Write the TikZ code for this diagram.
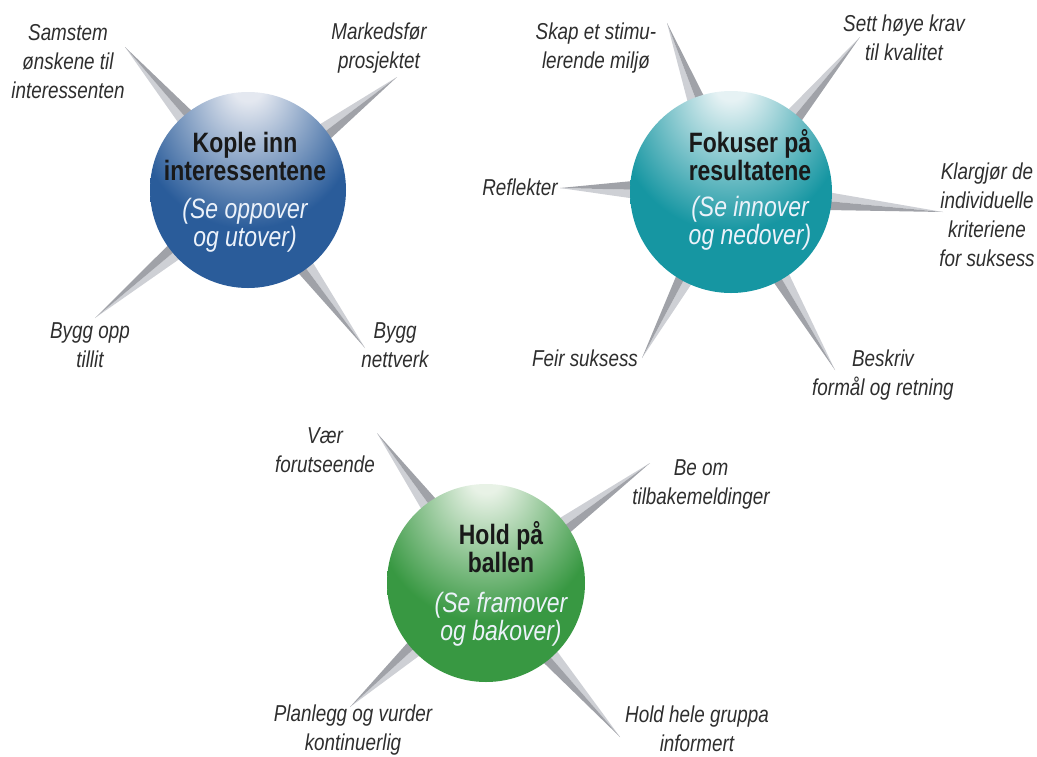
\documentclass[tikz,border=0pt]{standalone}
\usepackage{fontspec}
\setmainfont{Liberation Sans}[FakeStretch=0.82]
\usetikzlibrary{calc, backgrounds}

\definecolor{blueMain}{RGB}{42,92,154}
\definecolor{blueDark}{RGB}{30,76,136}
\definecolor{blueHL}{RGB}{228,232,240}
\definecolor{tealMain}{RGB}{22,150,162}
\definecolor{tealDark}{RGB}{12,128,140}
\definecolor{tealHL}{RGB}{230,242,244}
\definecolor{greenMain}{RGB}{56,152,66}
\definecolor{greenDark}{RGB}{38,134,50}
\definecolor{greenHL}{RGB}{232,242,230}
\definecolor{subwhite}{RGB}{236,242,250}
\definecolor{spikelight}{RGB}{206,208,213}
\definecolor{spikedark}{RGB}{160,162,168}

\pgfdeclareradialshading{blueball}{\pgfpoint{0bp}{28bp}}{color(0bp)=(blueHL); color(4bp)=(blueHL); color(28bp)=(blueMain); color(58bp)=(blueMain); color(80bp)=(blueDark)}
\pgfdeclareradialshading{tealball}{\pgfpoint{0bp}{28bp}}{color(0bp)=(tealHL); color(4bp)=(tealHL); color(28bp)=(tealMain); color(58bp)=(tealMain); color(80bp)=(tealDark)}
\pgfdeclareradialshading{greenball}{\pgfpoint{0bp}{28bp}}{color(0bp)=(greenHL); color(4bp)=(greenHL); color(28bp)=(greenMain); color(58bp)=(greenMain); color(80bp)=(greenDark)}

% one compass point, from a ball to a tip
\newcommand{\spike}[2]{%
  \path ($(#1.center)!50pt!(#2)$) coordinate (sp-b)
        ($(#1.center)!96pt!(#2)$) coordinate (sp-m);
  \fill[spikelight] (#2) -- ($(sp-m)!9pt!90:(#2)$) -- (sp-b) -- cycle;
  \fill[spikedark] (#2) -- ($(sp-m)!9pt!-90:(#2)$) -- (sp-b) -- cycle;
}

\begin{document}
\begin{tikzpicture}[x=1pt, y=1pt,
  ball/.style={circle, inner sep=0pt},
  ttl/.style={align=center, inner sep=0pt, text=black!90, font=\bfseries\fontsize{28}{28}\selectfont},
  sub/.style={align=center, inner sep=0pt, text=subwhite, font=\itshape\fontsize{28}{28}\selectfont},
  lbl/.style={align=center, inner sep=0pt, text=black!82, font=\itshape\fontsize{23}{29}\selectfont}
]
\useasboundingbox (0,0) rectangle (1037,-756);

% balls
\node[ball, minimum size=196pt, shading=blueball] (kople) at (248,-190) {};
\node[ball, minimum size=202pt, shading=tealball] (fokus) at (731,-192) {};
\node[ball, minimum size=198pt, shading=greenball] (hold) at (486,-583) {};

\node[ttl] (kople-t) at (245,-156) {Kople inn\\interessentene};
\node[sub] (kople-s) at (245,-225) {(Se oppover\\og utover)};
\node[ttl] (fokus-t) at (750,-155) {Fokuser på\\resultatene};
\node[sub] (fokus-s) at (750,-223) {(Se innover\\og nedover)};
\node[ttl] (hold-t) at (501,-547) {Hold på\\ballen};
\node[sub] (hold-s) at (501,-619) {(Se framover\\og bakover)};

% labels
\node[lbl] (samstem) at (68,-62) {Samstem\\ønskene til\\interessenten};
\node[lbl] (marked) at (379,-48) {Markedsfør\\prosjektet};
\node[lbl] (tillit) at (90,-345) {Bygg opp\\tillit};
\node[lbl] (nettverk) at (395,-345) {Bygg\\nettverk};
\node[lbl] (skap) at (596,-48) {Skap et stimu-\\lerende miljø};
\node[lbl] (krav) at (904,-38) {Sett høye krav\\til kvalitet};
\node[lbl] (refl) at (520,-187) {Reflekter};
\node[lbl] (klar) at (987,-215) {Klargjør de\\individuelle\\kriteriene\\for suksess};
\node[lbl] (feir) at (585,-358) {Feir suksess};
\node[lbl] (beskriv) at (883,-375) {Beskriv\\formål og retning};
\node[lbl] (vaer) at (325,-450) {Vær\\forutseende};
\node[lbl] (beom) at (701,-484) {Be om\\tilbakemeldinger};
\node[lbl] (planlegg) at (353,-730) {Planlegg og vurder\\kontinuerlig};
\node[lbl] (gruppa) at (697,-729) {Hold hele gruppa\\informert};

% spike tips
\coordinate (samstem-tip) at (125,-47);
\coordinate (marked-tip) at (397,-77);
\coordinate (tillit-tip) at (95,-318);
\coordinate (nettverk-tip) at (365,-348);
\coordinate (skap-tip) at (667,-23);
\coordinate (krav-tip) at (860,-37);
\coordinate (refl-tip) at (560,-188);
\coordinate (klar-tip) at (943,-212);
\coordinate (feir-tip) at (642,-358);
\coordinate (beskriv-tip) at (835,-370);
\coordinate (vaer-tip) at (377,-433);
\coordinate (beom-tip) at (650,-463);
\coordinate (planlegg-tip) at (350,-707);
\coordinate (gruppa-tip) at (620,-737);

\begin{scope}[on background layer]
\foreach \b/\t in {kople/samstem, kople/marked, kople/tillit, kople/nettverk,
    fokus/skap, fokus/krav, fokus/refl, fokus/klar, fokus/feir, fokus/beskriv,
    hold/vaer, hold/beom, hold/planlegg, hold/gruppa}
  \spike{\b}{\t-tip};
\end{scope}
\end{tikzpicture}
\end{document}
